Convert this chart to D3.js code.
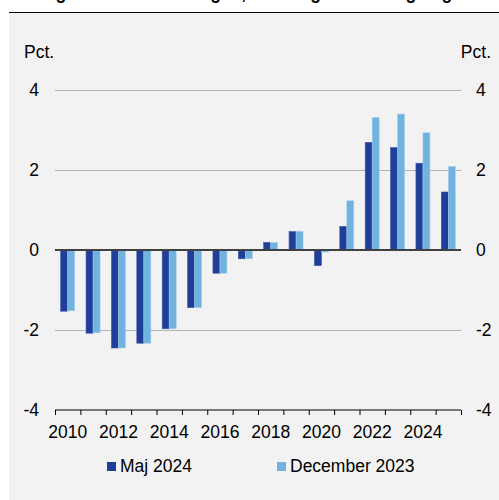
<!DOCTYPE html>
<html><head><meta charset="utf-8">
<script src="https://cdn.jsdelivr.net/npm/d3@7"></script>
<style>body{margin:0;background:#fff;}svg{display:block;font-family:"Liberation Sans",Arial,sans-serif;}</style>
</head><body>
<svg id="c" width="499" height="500"></svg>
<script>
const years = [2010,2011,2012,2013,2014,2015,2016,2017,2018,2019,2020,2021,2022,2023,2024,2025];
const maj2024 = [-1.53,-2.08,-2.45,-2.33,-1.97,-1.44,-0.58,-0.22,0.19,0.46,-0.39,0.59,2.69,2.56,2.17,1.45];
const dec2023 = [-1.52,-2.07,-2.45,-2.33,-1.97,-1.44,-0.58,-0.22,0.19,0.47,-0.05,1.23,3.31,3.40,2.93,2.09];
const yTicks = [-4,-2,0,2,4];
const xLabels = [2010,2012,2014,2016,2018,2020,2022,2024];
const seriesNames = ["Maj 2024","December 2023"];
const colors = ["#1f3e99","#70b3e0"];
const title = "Figur 3. Produktionsgab, ændring i vurdering af gabet";

const svg = d3.select("#c");
svg.append("text").attr("x",40).attr("y",-1).attr("font-size",17.5).attr("font-weight","bold").attr("fill","#000").text(title);
svg.append("rect").attr("x",9).attr("y",12).attr("width",490).attr("height",488).attr("fill","#f2f2f2");
svg.append("line").attr("x1",9).attr("x2",499).attr("y1",12.5).attr("y2",12.5).attr("stroke","#000").attr("stroke-width",1.2);

const x = d3.scaleBand().domain(years).range([55,461]).padding(0);
const y = d3.scaleLinear().domain([-4,4]).range([410,90]);

// gridlines
svg.append("g").selectAll("line").data(yTicks.filter(d=>d!==0 && d!==-4)).join("line")
  .attr("x1",55).attr("x2",461).attr("y1",d=>Math.round(y(d))+0.5).attr("y2",d=>Math.round(y(d))+0.5)
  .attr("stroke","#b3b3b3").attr("stroke-width",1);

// y labels
const fs = 17.5;
const lab = svg.append("g").attr("font-size",fs).attr("fill","#000");
lab.selectAll(".yl").data(yTicks).join("text").attr("x",39).attr("y",d=>y(d)+6).attr("text-anchor","end").text(d=>d);
lab.selectAll(".yr").data(yTicks).join("text").attr("x",476).attr("y",d=>y(d)+6).attr("text-anchor","start").text(d=>d);
lab.append("text").attr("x",24).attr("y",58).text("Pct.");
lab.append("text").attr("x",491).attr("y",58).attr("text-anchor","end").text("Pct.");

// bars
const inner = d3.scaleBand().domain([0,1]).range([0,14]);
const off = (x.bandwidth()-14)/2;
[maj2024,dec2023].forEach((vals,si)=>{
  svg.append("g").selectAll("rect").data(vals).join("rect")
    .attr("x",(d,i)=>x(years[i])+off+inner(si))
    .attr("width",inner.bandwidth())
    .attr("y",d=>y(Math.max(0,d)))
    .attr("height",d=>Math.abs(y(d)-y(0)))
    .attr("fill",colors[si])
    .attr("stroke",si===0?"#3d57a8":"#a6cdea").attr("stroke-width",0.6);
});

// zero line
svg.append("line").attr("x1",55).attr("x2",461).attr("y1",y(0)).attr("y2",y(0)).attr("stroke","#404040").attr("stroke-width",2);

// x axis
const xa = d3.axisBottom(d3.scaleLinear().domain([0,16]).range([55,461])).tickValues(d3.range(0,17)).tickSize(5).tickFormat("");
const gx = svg.append("g").attr("transform",`translate(0,${y(-4)})`).call(xa);
gx.select(".domain").attr("stroke","#000").attr("stroke-width",1.2).attr("d","M55,0H461");
gx.selectAll(".tick line").attr("stroke","#000");
svg.append("g").attr("font-size",fs).selectAll("text").data(xLabels).join("text")
  .attr("x",d=>x(d)+x.bandwidth()/2).attr("y",438).attr("text-anchor","middle").text(d=>d);

// legend
const lg = svg.append("g").attr("font-size",fs);
const lx = [107,277];
seriesNames.forEach((n,i)=>{
  lg.append("rect").attr("x",lx[i]).attr("y",462).attr("width",9).attr("height",9).attr("fill",colors[i]);
  lg.append("text").attr("x",lx[i]+13).attr("y",472).text(n);
});
</script>
</body></html>
